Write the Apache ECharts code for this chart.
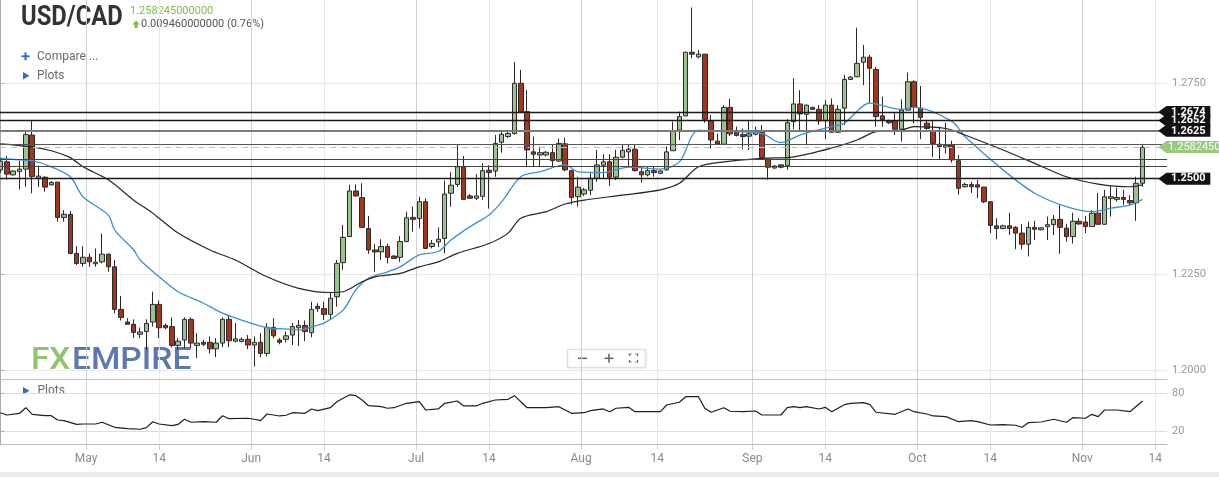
<!DOCTYPE html>
<html><head><meta charset="utf-8">
<script src="https://cdn.jsdelivr.net/npm/echarts@6/dist/echarts.min.js"></script>
<style>html,body{margin:0;padding:0;background:#fff;overflow:hidden}#c{width:1219px;height:477px}</style>
</head><body><div id="c"></div>
<script>
// ---- data (USD/CAD daily, Sun-Fri bars, 2021) ----
const dates = [
'04-15','04-16','04-18','04-19','04-20','04-21','04-22','04-23','04-25','04-26','04-27','04-28','04-29','04-30',
'05-02','05-03','05-04','05-05','05-06','05-07','05-09','05-10','05-11','05-12','05-13','05-14','05-16','05-17','05-18','05-19','05-20','05-21','05-23','05-24','05-25','05-26','05-27','05-28','05-30','05-31',
'06-01','06-02','06-03','06-04','06-06','06-07','06-08','06-09','06-10','06-11','06-13','06-14','06-15','06-16','06-17','06-18','06-20','06-21','06-22','06-23','06-24','06-25','06-27','06-28','06-29','06-30',
'07-01','07-02','07-04','07-05','07-06','07-07','07-08','07-09','07-11','07-12','07-13','07-14','07-15','07-16','07-18','07-19','07-20','07-21','07-22','07-23','07-25','07-26','07-27','07-28','07-29','07-30',
'08-01','08-02','08-03','08-04','08-05','08-06','08-08','08-09','08-10','08-11','08-12','08-13','08-15','08-16','08-17','08-18','08-19','08-20','08-22','08-23','08-24','08-25','08-26','08-27','08-29','08-30','08-31',
'09-01','09-02','09-03','09-05','09-06','09-07','09-08','09-09','09-10','09-12','09-13','09-14','09-15','09-16','09-17','09-19','09-20','09-21','09-22','09-23','09-24','09-26','09-27','09-28','09-29','09-30',
'10-01','10-03','10-04','10-05','10-06','10-07','10-08','10-10','10-11','10-12','10-13','10-14','10-15','10-17','10-18','10-19','10-20','10-21','10-22','10-24','10-25','10-26','10-27','10-28','10-29','10-31',
'11-01','11-02','11-03','11-04','11-05','11-07','11-08','11-09','11-10','11-11'];

const opens = [
1.2523,1.2544,1.2510,1.2519,1.2525,1.2614,1.2501,1.2504,1.2484,1.2491,
1.2399,1.2407,1.2305,1.2279,1.2295,1.2278,1.2283,1.2303,1.2270,1.2159,
1.2126,1.2120,1.2094,1.2101,1.2126,1.2172,1.2117,1.2114,1.2065,1.2079,
1.2133,1.2065,1.2073,1.2073,1.2056,1.2071,1.2133,1.2076,1.2075,1.2081,
1.2066,1.2073,1.2044,1.2112,1.2079,1.2081,1.2092,1.2111,1.2117,1.2098,
1.2167,1.2161,1.2146,1.2192,1.2281,1.2349,1.2468,1.2451,1.2370,1.2314,
1.2309,1.2323,1.2298,1.2295,1.2336,1.2399,1.2396,1.2440,1.2323,1.2335,
1.2344,1.2462,1.2485,1.2531,1.2455,1.2449,1.2454,1.2522,1.2520,1.2595,
1.2610,1.2618,1.2749,1.2675,1.2570,1.2562,1.2562,1.2568,1.2546,1.2591,
1.2521,1.2453,1.2460,1.2470,1.2501,1.2535,1.2544,1.2504,1.2556,1.2570,
1.2577,1.2518,1.2510,1.2521,1.2514,1.2523,1.2573,1.2627,1.2664,1.2830,
1.2818,1.2825,1.2651,1.2598,1.2590,1.2686,1.2623,1.2615,1.2611,1.2616,
1.2621,1.2551,1.2528,1.2536,1.2534,1.2649,1.2695,1.2668,1.2686,1.2681,
1.2651,1.2692,1.2621,1.2684,1.2759,1.2766,1.2804,1.2817,1.2785,1.2664,
1.2651,1.2651,1.2629,1.2679,1.2753,1.2684,1.2645,1.2625,1.2590,1.2582,
1.2587,1.2547,1.2479,1.2485,1.2484,1.2478,1.2440,1.2377,1.2370,1.2377,
1.2373,1.2358,1.2329,1.2373,1.2367,1.2375,1.2380,1.2394,1.2371,1.2349,
1.2389,1.2387,1.2375,1.2410,1.2381,1.2448,1.2446,1.2451,1.2443,1.2437,
1.2488];
const closes = [
1.2546,1.2512,1.2520,1.2525,1.2615,1.2506,1.2507,1.2478,1.2490,1.2399,
1.2407,1.2305,1.2279,1.2295,1.2283,1.2282,1.2303,1.2270,1.2159,1.2138,
1.2120,1.2099,1.2100,1.2122,1.2172,1.2111,1.2111,1.2065,1.2076,1.2133,
1.2071,1.2071,1.2068,1.2056,1.2071,1.2133,1.2077,1.2082,1.2081,1.2066,
1.2073,1.2044,1.2112,1.2090,1.2073,1.2090,1.2114,1.2117,1.2101,1.2159,
1.2161,1.2146,1.2188,1.2279,1.2347,1.2468,1.2455,1.2373,1.2314,1.2309,
1.2323,1.2295,1.2292,1.2336,1.2398,1.2394,1.2440,1.2318,1.2331,1.2342,
1.2460,1.2483,1.2531,1.2446,1.2449,1.2455,1.2521,1.2516,1.2592,1.2616,
1.2618,1.2749,1.2675,1.2575,1.2564,1.2568,1.2569,1.2547,1.2592,1.2523,
1.2451,1.2478,1.2471,1.2501,1.2536,1.2544,1.2504,1.2556,1.2574,1.2577,
1.2521,1.2510,1.2521,1.2516,1.2520,1.2570,1.2625,1.2662,1.2830,1.2825,
1.2825,1.2655,1.2601,1.2590,1.2686,1.2617,1.2613,1.2610,1.2617,1.2621,
1.2555,1.2530,1.2533,1.2530,1.2646,1.2695,1.2669,1.2692,1.2681,1.2651,
1.2692,1.2621,1.2681,1.2759,1.2765,1.2801,1.2817,1.2788,1.2662,1.2654,
1.2646,1.2629,1.2679,1.2753,1.2686,1.2660,1.2631,1.2592,1.2584,1.2587,
1.2549,1.2475,1.2485,1.2479,1.2478,1.2440,1.2378,1.2370,1.2377,1.2370,
1.2358,1.2329,1.2373,1.2368,1.2372,1.2380,1.2394,1.2373,1.2349,1.2389,
1.2382,1.2375,1.2410,1.2381,1.2453,1.2453,1.2451,1.2446,1.2437,1.2488,
1.2582];
const lows = [
1.2515,1.2497,1.2508,1.2472,1.2479,1.2462,1.2478,1.2466,1.2482,1.2388,
1.2388,1.2303,1.2275,1.2270,1.2270,1.2270,1.2279,1.2257,1.2149,1.2130,
1.2119,1.2084,1.2084,1.2053,1.2114,1.2084,1.2107,1.2060,1.2053,1.2058,
1.2058,1.2032,1.2063,1.2044,1.2034,1.2060,1.2060,1.2073,1.2073,1.2055,
1.2010,1.2034,1.2036,1.2084,1.2068,1.2073,1.2066,1.2063,1.2076,1.2086,
1.2152,1.2131,1.2131,1.2166,1.2262,1.2348,1.2454,1.2373,1.2304,1.2257,
1.2288,1.2279,1.2290,1.2283,1.2334,1.2362,1.2370,1.2318,1.2318,1.2322,
1.2305,1.2427,1.2479,1.2446,1.2447,1.2444,1.2445,1.2422,1.2505,1.2568,
1.2606,1.2615,1.2672,1.2530,1.2533,1.2533,1.2558,1.2531,1.2544,1.2519,
1.2433,1.2427,1.2455,1.2457,1.2492,1.2501,1.2481,1.2496,1.2553,1.2531,
1.2519,1.2490,1.2506,1.2505,1.2512,1.2521,1.2572,1.2601,1.2663,1.2814,
1.2814,1.2646,1.2579,1.2588,1.2590,1.2611,1.2610,1.2577,1.2575,1.2613,
1.2552,1.2497,1.2525,1.2527,1.2523,1.2629,1.2623,1.2587,1.2679,1.2640,
1.2603,1.2621,1.2620,1.2640,1.2757,1.2765,1.2744,1.2697,1.2636,1.2636,
1.2643,1.2614,1.2597,1.2679,1.2645,1.2603,1.2628,1.2557,1.2551,1.2566,
1.2542,1.2458,1.2477,1.2463,1.2449,1.2436,1.2358,1.2342,1.2368,1.2353,
1.2316,1.2316,1.2297,1.2340,1.2365,1.2340,1.2353,1.2304,1.2336,1.2331,
1.2379,1.2358,1.2375,1.2380,1.2380,1.2401,1.2440,1.2431,1.2431,1.2390,
1.2479];
const highs = [
1.2555,1.2559,1.2522,1.2546,1.2623,1.2651,1.2534,1.2506,1.2494,1.2492,
1.2418,1.2416,1.2324,1.2324,1.2305,1.2318,1.2357,1.2305,1.2288,1.2194,
1.2136,1.2133,1.2112,1.2133,1.2205,1.2182,1.2122,1.2138,1.2084,1.2138,
1.2138,1.2097,1.2079,1.2088,1.2084,1.2138,1.2142,1.2123,1.2086,1.2092,
1.2088,1.2097,1.2123,1.2136,1.2084,1.2101,1.2123,1.2131,1.2130,1.2179,
1.2175,1.2179,1.2203,1.2288,1.2379,1.2484,1.2485,1.2488,1.2403,1.2330,
1.2342,1.2330,1.2301,1.2350,1.2414,1.2427,1.2453,1.2449,1.2340,1.2373,
1.2495,1.2518,1.2590,1.2559,1.2460,1.2512,1.2540,1.2535,1.2614,1.2625,
1.2626,1.2805,1.2784,1.2731,1.2610,1.2584,1.2572,1.2588,1.2605,1.2607,
1.2523,1.2505,1.2476,1.2518,1.2575,1.2564,1.2564,1.2575,1.2588,1.2588,
1.2588,1.2531,1.2533,1.2531,1.2523,1.2584,1.2649,1.2675,1.2831,1.2947,
1.2836,1.2825,1.2666,1.2618,1.2692,1.2709,1.2636,1.2631,1.2651,1.2636,
1.2640,1.2552,1.2535,1.2538,1.2655,1.2762,1.2731,1.2693,1.2688,1.2692,
1.2705,1.2709,1.2692,1.2771,1.2768,1.2894,1.2849,1.2823,1.2792,1.2714,
1.2654,1.2671,1.2707,1.2777,1.2757,1.2742,1.2652,1.2651,1.2636,1.2646,
1.2599,1.2562,1.2490,1.2492,1.2497,1.2478,1.2440,1.2397,1.2380,1.2411,
1.2376,1.2382,1.2388,1.2390,1.2374,1.2401,1.2405,1.2432,1.2382,1.2411,
1.2397,1.2403,1.2418,1.2463,1.2471,1.2481,1.2477,1.2471,1.2457,1.2505,
1.2591];

// moving averages: [bar index, value]
const maBlue = [[0,1.2553],[3,1.2549],[5,1.2547],[8,1.2531],[11,1.2505],[13,1.2453],[17,1.2405],[18,1.2366],[21,1.2314],[22,1.2288],[25,1.2244],[28,1.2205],[32,1.2175],[35,1.2149],[38,1.2131],[42,1.2111],[46,1.2107],[47,1.2105],[50,1.2118],[51,1.2123],[54,1.2157],[56,1.2210],[58,1.2240],[61,1.2257],[63,1.2270],[66,1.2301],[69,1.2310],[71,1.2340],[74,1.2375],[77,1.2405],[79,1.2440],[82,1.2505],[85,1.2518],[89,1.2536],[91,1.2518],[95,1.2516],[99,1.2530],[104,1.2525],[107,1.2544],[110,1.2626],[116,1.2623],[120,1.2618],[123,1.2594],[126,1.2614],[131,1.2636],[133,1.2645],[137,1.2697],[142,1.2681],[144,1.2686],[150,1.2649],[152,1.2610],[158,1.2523],[163,1.2462],[168,1.2427],[172,1.2414],[175,1.2423],[178,1.2431],[180,1.2446]];
const maBlack = [[0,1.2591],[5,1.2583],[8,1.2573],[11,1.2555],[13,1.2531],[17,1.2497],[21,1.2444],[24,1.2410],[28,1.2358],[33,1.2314],[37,1.2288],[42,1.2244],[47,1.2214],[52,1.2203],[54,1.2205],[57,1.2231],[59,1.2244],[63,1.2253],[66,1.2270],[69,1.2283],[72,1.2305],[77,1.2331],[80,1.2358],[82,1.2397],[86,1.2414],[89,1.2434],[92,1.2444],[98,1.2457],[104,1.2471],[107,1.2488],[110,1.2531],[114,1.2544],[120,1.2553],[125,1.2557],[131,1.2580],[135,1.2601],[138,1.2623],[142,1.2627],[144,1.2636],[149,1.2631],[152,1.2614],[158,1.2575],[163,1.2540],[168,1.2505],[173,1.2486],[178,1.2479],[180,1.2484]];
// RSI (lower pane): [bar index, value]
const rsi = [[0,49],[1,45.4],[3,48.1],[4,56.9],[5,46.5],[7,44.3],[8,44.3],[9,37.6],[10,36.5],[12,30.8],[13,31.3],[15,31.3],[16,34],[18,26.1],[20,23.9],[22,23],[23,25.5],[24,34.9],[25,31.3],[27,28.6],[28,30.8],[29,38.7],[30,34],[32,34.9],[34,34],[35,44.3],[36,39.6],[39,40.3],[40,38.7],[41,36.5],[42,47],[44,43.9],[45,45],[46,49],[48,48.1],[49,54.9],[50,52.2],[52,56.9],[53,66.3],[54,71.7],[55,76.9],[56,75.8],[57,69],[58,60],[60,58.5],[61,56],[62,56.9],[64,63.8],[66,66.3],[67,53.3],[69,54.9],[70,63.8],[72,67.4],[73,59.6],[75,59.6],[76,63.8],[78,69],[80,70.1],[81,75.8],[83,56.9],[86,56.9],[88,58.5],[90,48.1],[92,49],[93,52.2],[95,54.9],[96,50.6],[97,56],[99,57.5],[100,50.6],[102,50.6],[104,50.6],[105,61.1],[107,65.4],[108,74.2],[110,74.2],[111,56],[112,49.7],[114,56.9],[115,51.3],[117,50.6],[119,51.7],[120,45.4],[123,45.4],[124,56.9],[125,58.5],[126,56.9],[127,58.5],[129,54.9],[130,57.5],[131,50.6],[133,61.6],[134,63.8],[136,64.8],[137,62.2],[138,49.7],[141,46.5],[143,54.9],[144,50.6],[146,47],[147,43.9],[149,42.8],[151,34.9],[153,36.5],[154,34.9],[156,29.7],[158,30.2],[160,29.3],[161,26.1],[162,33.3],[164,34.4],[166,38.7],[168,34],[169,41.2],[171,40.3],[172,46.5],[173,42.8],[174,53.3],[176,53.3],[178,50.6],[180,67.4]];

const levels = [1.2674, 1.2652, 1.2625, 1.2590, 1.2550, 1.2532, 1.2500];
const taggedLevels = [1.2652, 1.2674, 1.2625, 1.2500];
const lastPrice = 1.258245;
const change = 0.00946;
const changePct = 0.76;
const priceTicks = [1.2000, 1.2250, 1.2500, 1.2750];
const rsiTicks = [20, 80];
// axis tick positions in bar-index units (month starts fall between bars)
const timeTicks = [13.5, 25, 39.5, 51, 65.5, 77, 91.5, 103.5, 118.5, 130, 144.5, 156, 170.5, 182];
const timeLabels = ['May','14','Jun','14','Jul','14','Aug','14','Sep','14','Oct','14','Nov','14'];

// ---- styles ----
const levelStyles = [
  {color:'#1b1b1b', width:1.3}, {color:'#1b1b1b', width:1.3}, {color:'#7a7a7a', width:2.2},
  {color:'#555', width:1}, {color:'#444', width:1.2}, {color:'#444', width:1.2}, {color:'#1b1b1b', width:1.3}
];
const X_MIN = -0.08, X_MAX = 183.85;
const TAG = 'path://M0,6L8,0L52,0L52,12L8,12Z';
const TAG2 = 'path://M0,6L8,0L66,0L66,12L8,12Z';

const candles = dates.map((d, i) => [i, opens[i], closes[i], lows[i], highs[i]]);

const chart = echarts.init(document.getElementById('c'), null, {renderer:'canvas'});
const FONT = 'Roboto, "Noto Sans", sans-serif';
const xAxisBase = {
  type:'value', min:X_MIN, max:X_MAX,
  axisTick:{show:false, customValues:timeTicks},
  splitLine:{show:true, lineStyle:{color:['#d2d2d2','#e8e8e8'], width:1}}
};
const tagLabel = {show:true, position:'inside', offset:[4,0], color:'#fff', fontSize:11, fontWeight:'bold', fontFamily:FONT, formatter:'{c}'};
const mid = {verticalAlign:'middle', textVerticalAlign:'middle'};

chart.setOption({
  animation:false,
  backgroundColor:'#fff',
  grid:[
    {left:0, right:52, top:0, height:379},
    {left:0, right:52, top:380, height:65}
  ],
  xAxis:[
    Object.assign({}, xAxisBase, {gridIndex:0, axisLine:{show:true, lineStyle:{color:'#c4c4c4'}}, axisLabel:{show:false}}),
    Object.assign({}, xAxisBase, {gridIndex:1,
      axisLine:{show:true, lineStyle:{color:'#bdbdbd'}},
      axisTick:{show:true, length:6, customValues:timeTicks, lineStyle:{color:'#ccc'}},
      axisLabel:{show:true, customValues:timeTicks, color:'#8a8a8a', fontSize:12, fontFamily:FONT, margin:8,
        formatter:(v)=>{const k = timeTicks.indexOf(v); return k>=0 ? timeLabels[k] : '';}}})
  ],
  yAxis:[
    {type:'value', gridIndex:0, position:'right', min:1.19773, max:1.29663, scale:true,
      axisLine:{show:true, lineStyle:{color:'#a8a8a8'}},
      axisTick:{show:true, length:4, customValues:priceTicks, lineStyle:{color:'#aaa'}},
      axisLabel:{show:true, customValues:priceTicks, color:'#9a9a9a', fontSize:11, fontFamily:FONT, margin:5,
        formatter:(v)=>v.toFixed(4)},
      splitLine:{show:true, lineStyle:{color:'#e8e8e8'}}},
    {type:'value', gridIndex:1, position:'right', min:-1.7, max:100.4,
      axisLine:{show:true, lineStyle:{color:'#a8a8a8'}},
      axisTick:{show:true, length:4, customValues:rsiTicks, lineStyle:{color:'#aaa'}},
      axisLabel:{show:true, customValues:rsiTicks, color:'#9a9a9a', fontSize:11, fontFamily:FONT, margin:5},
      splitLine:{show:true, lineStyle:{color:'#dcdcdc'}}}
  ],
  series:[
    {type:'candlestick', name:'USD/CAD', xAxisIndex:0, yAxisIndex:0, data:candles,
      encode:{x:0, y:[1,2,3,4]}, barWidth:5,
      itemStyle:{color:'#9cc28f', color0:'#a3361f', borderColor:'#2b2b2b', borderColor0:'#2b2b2b', borderWidth:1},
      markLine:{silent:true, precision:7, symbol:['none','none'], label:{show:false},
        data: levels.map((v,i)=>({yAxis:v, lineStyle:Object.assign({type:'solid'}, levelStyles[i])}))
          .concat([{yAxis:lastPrice, lineStyle:{color:'#a9d48f', width:1.2, type:[6,5]}}])},
      markPoint:{silent:true,
        data: taggedLevels.map(v=>({coord:[X_MAX, v], value:v.toFixed(4), symbol:TAG, symbolSize:[52,12], symbolOffset:[17.3,0],
          itemStyle:{color:'#111'}, label:tagLabel}))
          .concat([{coord:[X_MAX, lastPrice], value:lastPrice.toFixed(7), symbol:TAG2, symbolSize:[66,12], symbolOffset:[24.3,0],
            itemStyle:{color:'#97ca7c'}, label:Object.assign({}, tagLabel, {offset:[3,0], fontWeight:'normal'})}])}
    },
    {type:'line', name:'MA fast', xAxisIndex:0, yAxisIndex:0, data:maBlue, smooth:0.3, showSymbol:false,
      lineStyle:{color:'#3a92d0', width:1.3}, z:3},
    {type:'line', name:'MA slow', xAxisIndex:0, yAxisIndex:0, data:maBlack, smooth:0.3, showSymbol:false,
      lineStyle:{color:'#262626', width:1.2}, z:3},
    {type:'line', name:'RSI', xAxisIndex:1, yAxisIndex:1, data:rsi, showSymbol:false,
      lineStyle:{color:'#1e1e1e', width:1.2}}
  ],
  graphic:[
    {type:'text', x:21, y:17.5, scaleX:0.85, style:Object.assign({text:'USD/CAD', font:'bold 28px Roboto, "Liberation Sans"', fill:'#333'}, mid)},
    {type:'text', x:130, y:11, style:Object.assign({text:(lastPrice).toFixed(12), font:'11px '+FONT, fill:'#7dbb47'}, mid)},
    {type:'polygon', shape:{points:[[132.5,24.5],[136,20.5],[139.5,24.5],[137.5,24.5],[137.5,28],[134.5,28],[134.5,24.5]]}, style:{fill:'#7dbb47'}},
    {type:'text', x:141, y:24.5, style:Object.assign({text:change.toFixed(12)+' ('+changePct.toFixed(2)+'%)', font:'11px '+FONT, fill:'#555'}, mid)},
    {type:'rect', shape:{x:21.5, y:55.3, width:8, height:2}, style:{fill:'#2f6fc0'}},
    {type:'rect', shape:{x:24.5, y:52.3, width:2, height:8}, style:{fill:'#2f6fc0'}},
    {type:'text', x:37, y:56.5, style:Object.assign({text:'Compare ...', font:'12px '+FONT, fill:'#6a6a6a'}, mid)},
    {type:'polygon', shape:{points:[[23,72],[29.5,75.8],[23,79.6]]}, style:{fill:'#2f6fc0'}},
    {type:'text', x:37, y:76, style:Object.assign({text:'Plots', font:'12px '+FONT, fill:'#6a6a6a'}, mid)},
    {type:'polygon', shape:{points:[[23,387],[29.5,390.8],[23,394.6]]}, style:{fill:'#2f6fc0'}},
    {type:'text', x:37.5, y:391, style:Object.assign({text:'Plots', font:'12px '+FONT, fill:'#6a6a6a'}, mid)},
    {type:'text', x:31, y:361, scaleX:1.04, style:Object.assign({text:'FX', font:'500 32px '+FONT, fill:'#8ec56e'}, mid)},
    {type:'text', x:72, y:361, scaleX:1.05, style:Object.assign({text:'EMPIRE', font:'500 32px '+FONT, fill:'#5b79ae'}, mid)},
    {type:'rect', shape:{x:567.5, y:349.5, width:78, height:18}, style:{fill:'#fff', stroke:'#dedede', lineWidth:1, shadowBlur:3, shadowColor:'rgba(0,0,0,0.12)'}},
    {type:'rect', shape:{x:578, y:357.5, width:9, height:1.6}, style:{fill:'#666'}},
    {type:'rect', shape:{x:604.5, y:357.5, width:9, height:1.6}, style:{fill:'#666'}},
    {type:'rect', shape:{x:608.2, y:353.8, width:1.6, height:9}, style:{fill:'#666'}},
    {type:'polyline', shape:{points:[[629.5,356],[629.5,354],[631.5,354]]}, style:{stroke:'#666', lineWidth:1.2, fill:null}},
    {type:'polyline', shape:{points:[[635.5,354],[637.5,354],[637.5,356]]}, style:{stroke:'#666', lineWidth:1.2, fill:null}},
    {type:'polyline', shape:{points:[[629.5,360],[629.5,362],[631.5,362]]}, style:{stroke:'#666', lineWidth:1.2, fill:null}},
    {type:'polyline', shape:{points:[[635.5,362],[637.5,362],[637.5,360]]}, style:{stroke:'#666', lineWidth:1.2, fill:null}},
    {type:'rect', shape:{x:0, y:472, width:1219, height:5}, style:{fill:'#ebebeb'}}
  ]
});
</script></body></html>
